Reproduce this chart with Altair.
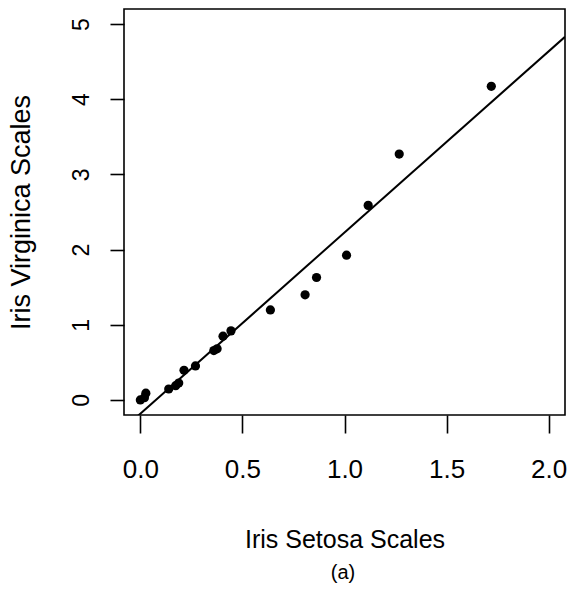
import altair as alt
import pandas as pd

# Data
setosa = [0.0, 0.02, 0.027, 0.139, 0.173, 0.188, 0.214, 0.27, 0.36, 0.376,
          0.405, 0.444, 0.637, 0.807, 0.863, 1.01, 1.116, 1.268, 1.719]
virginica = [0.0, 0.03, 0.09, 0.146, 0.19, 0.225, 0.395, 0.453, 0.657, 0.68,
             0.848, 0.919, 1.198, 1.398, 1.629, 1.926, 2.588, 3.271, 4.172]

line_intercept = -0.183
line_slope = 2.41

x_ticks = [0.0, 0.5, 1.0, 1.5, 2.0]
y_ticks = [0, 1, 2, 3, 4, 5]
x_domain = [-0.08, 2.08]
y_domain = [-0.2, 5.2]

x_title = "Iris Setosa Scales"
y_title = "Iris Virginica Scales"
caption = "(a)"

FONT = "Liberation Sans"

pts = pd.DataFrame({"x": setosa, "y": virginica})
line_df = pd.DataFrame({
    "x": x_domain,
    "y": [line_intercept + line_slope * v for v in x_domain],
})
cap_df = pd.DataFrame({"label": [caption]})

W, H = 441, 406

xscale = alt.Scale(domain=x_domain, nice=False, zero=False)
yscale = alt.Scale(domain=y_domain, nice=False, zero=False)

xaxis = alt.Axis(
    values=x_ticks, format=".1f", title=x_title, grid=False, domain=False,
    tickSize=18, tickWidth=1.6, tickColor="black",
    labelFont=FONT, labelFontSize=26, labelColor="black",
    labelBaseline="alphabetic", labelPadding=44, labelFlush=False,
    labelOverlap=False,
    titleFont=FONT, titleFontSize=25, titleFontWeight="normal",
    titleColor="black", titleBaseline="alphabetic", titleAlign="center",
    titleX=W / 2, titleY=132,
)
yaxis = alt.Axis(
    values=y_ticks, format="d", title=y_title, grid=False, domain=False,
    tickSize=14, tickWidth=1.6, tickColor="black",
    labelFont=FONT, labelFontSize=23, labelColor="black",
    labelAngle=270, labelAlign="center", labelBaseline="alphabetic",
    labelPadding=22, labelFlush=False, labelOverlap=False,
    titleFont=FONT, titleFontSize=27, titleFontWeight="normal",
    titleColor="black", titleAngle=270, titleBaseline="alphabetic",
    titleAlign="center", titleX=-95, titleY=H / 2,
)

points = alt.Chart(pts).mark_circle(size=85, color="black", opacity=1).encode(
    x=alt.X("x:Q", scale=xscale, axis=xaxis),
    y=alt.Y("y:Q", scale=yscale, axis=yaxis),
)

line = alt.Chart(line_df).mark_line(color="black", strokeWidth=2, clip=True).encode(
    x=alt.X("x:Q", scale=xscale),
    y=alt.Y("y:Q", scale=yscale),
)

cap = alt.Chart(cap_df).mark_text(
    font=FONT, fontSize=20, color="black", baseline="alphabetic", align="center"
).encode(
    x=alt.value(219),
    y=alt.value(570),
    text=alt.Text("label:N"),
)

chart = alt.layer(line, points, cap).properties(
    width=W, height=H,
    autosize=alt.AutoSizeParams(type="none"),
    padding={"left": 124, "top": 9, "right": 5, "bottom": 175},
    background="white",
).configure_view(stroke="black", strokeWidth=1.6)

chart.save("out.html", embed_options={"renderer": "svg", "actions": False})
